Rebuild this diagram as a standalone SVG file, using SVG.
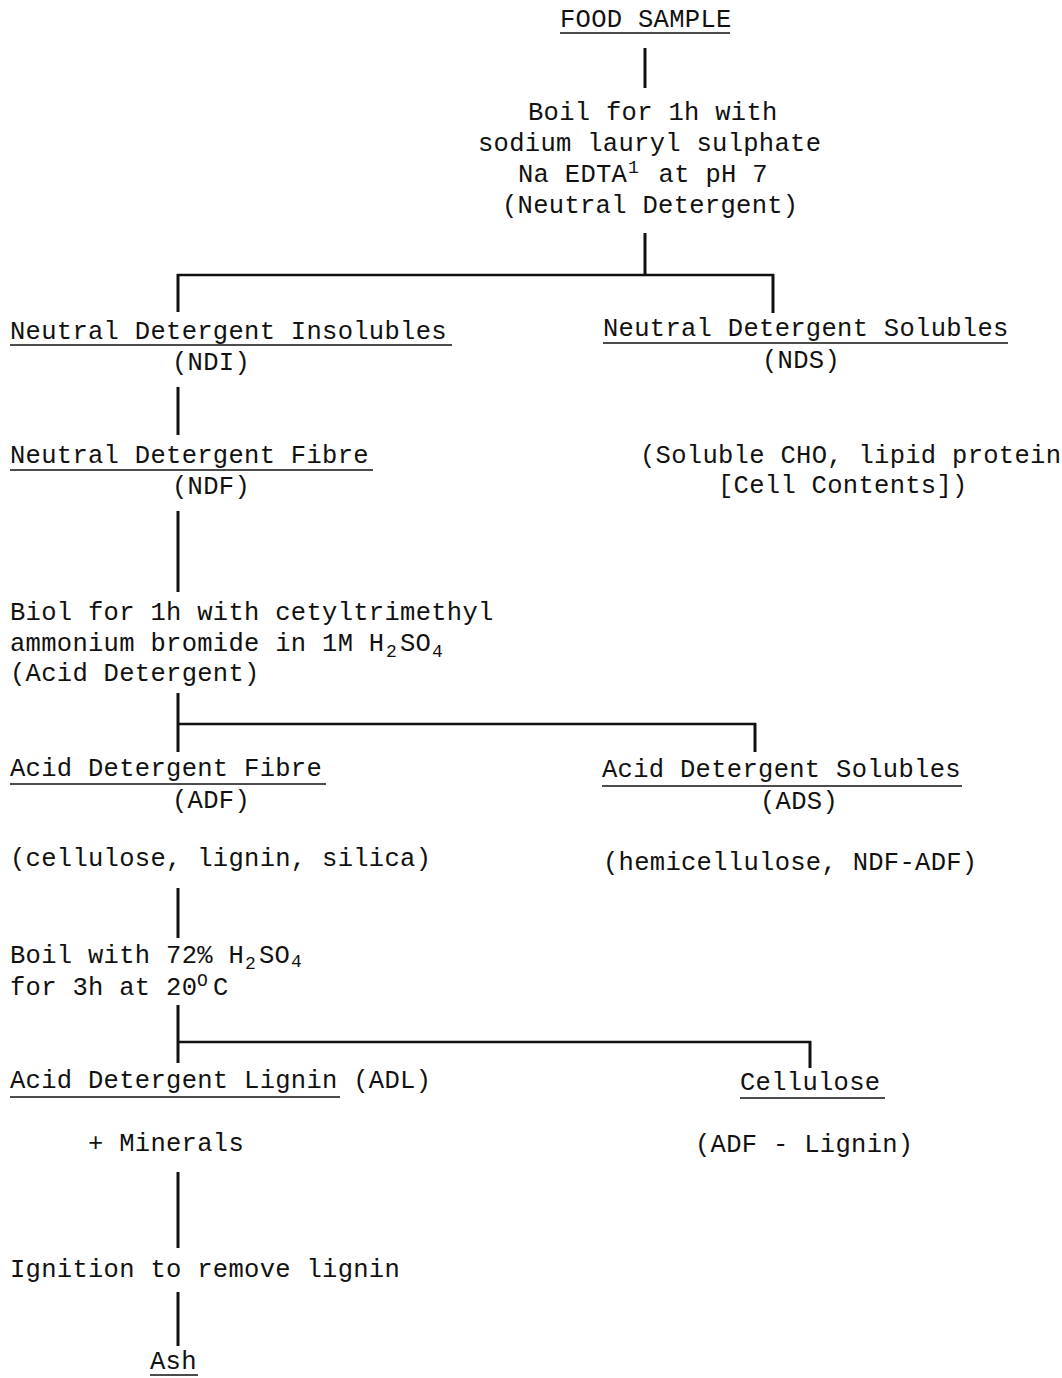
<svg xmlns="http://www.w3.org/2000/svg" width="1062" height="1378" viewBox="0 0 1062 1378">
<style>
text{font-family:"Liberation Mono","Courier New",monospace;font-size:25.5px;letter-spacing:0.3px;fill:#111}
.s{font-size:18px;letter-spacing:0}
.u{stroke:#111;stroke-width:1.6}
.c line{stroke:#111;stroke-width:3;stroke-linecap:butt}
.c .h{stroke-width:2.5}
</style>
<rect width="1062" height="1378" fill="#fff"/>
<g id="connectors" class="c">
<line x1="645" y1="48" x2="645" y2="88"/>
<line x1="645" y1="233" x2="645" y2="276"/>
<line class="h" x1="177" y1="275" x2="774" y2="275"/>
<line x1="178" y1="274" x2="178" y2="312"/>
<line x1="773" y1="274" x2="773" y2="313"/>
<line x1="178" y1="387" x2="178" y2="435"/>
<line x1="178" y1="511" x2="178" y2="592"/>
<line x1="178" y1="693" x2="178" y2="752"/>
<line class="h" x1="178" y1="724" x2="756" y2="724"/>
<line x1="755" y1="723" x2="755" y2="752"/>
<line x1="178" y1="888" x2="178" y2="938"/>
<line x1="178" y1="1005" x2="178" y2="1063"/>
<line class="h" x1="178" y1="1042" x2="811" y2="1042"/>
<line x1="810" y1="1041" x2="810" y2="1068"/>
<line x1="178" y1="1172" x2="178" y2="1248"/>
<line x1="178" y1="1292" x2="178" y2="1346"/>
</g>
<g id="food-sample">
<text x="560" y="27">FOOD SAMPLE</text>
<line class="u" x1="560" y1="33" x2="730" y2="33"/>
</g>
<g id="neutral-detergent-step">
<text x="528" y="120">Boil for 1h with</text>
<text x="478" y="151">sodium lauryl sulphate</text>
<text y="182"><tspan x="518">Na EDTA</tspan><tspan class="s" x="628" dy="-9">1</tspan><tspan x="643" dy="9"> at pH 7</tspan></text>
<text x="502" y="213">(Neutral Detergent)</text>
</g>
<g id="ndi">
<text x="10" y="339">Neutral Detergent Insolubles</text>
<line class="u" x1="10" y1="345" x2="452" y2="345"/>
<text x="172" y="370">(NDI)</text>
</g>
<g id="nds">
<text x="603" y="336">Neutral Detergent Solubles</text>
<line class="u" x1="603" y1="343" x2="1008" y2="343"/>
<text x="762" y="368">(NDS)</text>
<text x="640" y="463">(Soluble CHO, lipid protein</text>
<text x="718" y="493">[Cell Contents])</text>
</g>
<g id="ndf">
<text x="10" y="463">Neutral Detergent Fibre</text>
<line class="u" x1="10" y1="470" x2="373" y2="470"/>
<text x="172" y="494">(NDF)</text>
</g>
<g id="acid-detergent-step">
<text x="10" y="620">Biol for 1h with cetyltrimethyl</text>
<text y="651"><tspan x="10">ammonium bromide in 1M H</tspan><tspan class="s" x="386" dy="6">2</tspan><tspan x="400" dy="-6">SO</tspan><tspan class="s" x="432" dy="6">4</tspan></text>
<text x="10" y="681">(Acid Detergent)</text>
</g>
<g id="adf">
<text x="10" y="776">Acid Detergent Fibre</text>
<line class="u" x1="10" y1="784" x2="326" y2="784"/>
<text x="172" y="808">(ADF)</text>
<text x="10" y="866">(cellulose, lignin, silica)</text>
</g>
<g id="ads">
<text x="602" y="777">Acid Detergent Solubles</text>
<line class="u" x1="602" y1="786" x2="962" y2="786"/>
<text x="760" y="809">(ADS)</text>
<text x="603" y="870">(hemicellulose, NDF-ADF)</text>
</g>
<g id="sulphuric-step">
<text y="963"><tspan x="10">Boil with 72% H</tspan><tspan class="s" x="245" dy="6">2</tspan><tspan x="259" dy="-6">SO</tspan><tspan class="s" x="291" dy="4">4</tspan></text>
<text y="995"><tspan x="10">for 3h at 20</tspan><tspan class="s" x="197" dy="-9">O</tspan><tspan x="213" dy="9">C</tspan></text>
</g>
<g id="adl">
<text x="10" y="1088">Acid Detergent Lignin (ADL)</text>
<line class="u" x1="10" y1="1097" x2="340" y2="1097"/>
<text x="88" y="1151">+ Minerals</text>
</g>
<g id="cellulose">
<text x="740" y="1090">Cellulose</text>
<line class="u" x1="740" y1="1098" x2="885" y2="1098"/>
<text x="695" y="1152">(ADF - Lignin)</text>
</g>
<g id="ignition">
<text x="10" y="1277">Ignition to remove lignin</text>
</g>
<g id="ash">
<text x="150" y="1369">Ash</text>
<line class="u" x1="150" y1="1375" x2="198" y2="1375"/>
</g>
</svg>
